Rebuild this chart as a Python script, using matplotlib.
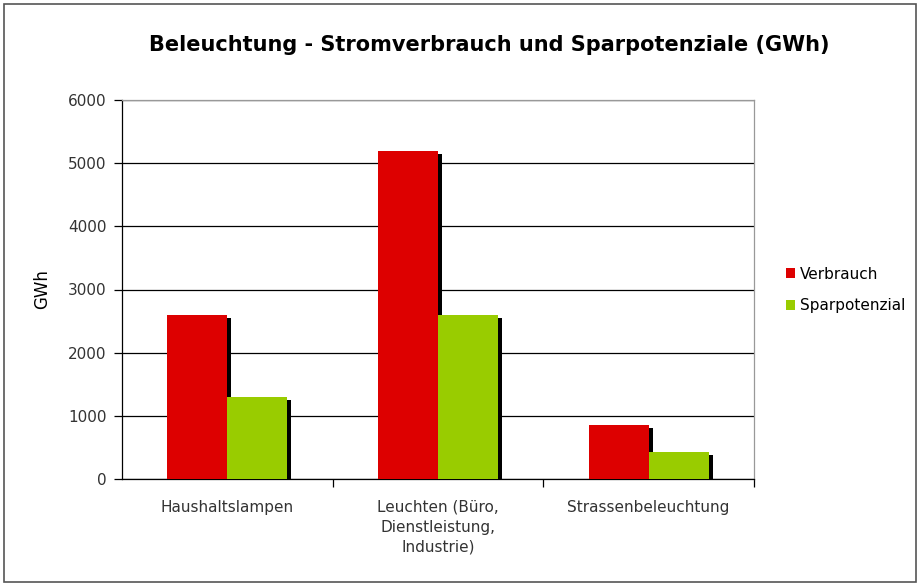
import matplotlib
matplotlib.use("Agg")
import matplotlib.pyplot as plt
import matplotlib.patheffects as pe
from matplotlib.patches import Rectangle, Patch
import numpy as np

categories = ["Haushaltslampen", "Leuchten (Büro,\nDienstleistung,\nIndustrie)", "Strassenbeleuchtung"]
verbrauch = [2600, 5200, 850]
sparpotenzial = [1300, 2600, 430]
series_names = ["Verbrauch", "Sparpotenzial"]
colors = ['#DD0000', '#99CC00']
yticks = [0, 1000, 2000, 3000, 4000, 5000, 6000]

plt.rcParams['font.family'] = ['DejaVu Sans']

fig = plt.figure(figsize=(9.2, 5.85), dpi=100)
ax = fig.add_axes([122/920, 1-479/585, (754-122)/920, (479-100)/585])

x = np.arange(len(categories))
w = 0.285
shadow = [pe.SimplePatchShadow(offset=(2.9, -2.2), shadow_rgbFace='black', alpha=1.0), pe.Normal()]
b1 = ax.bar(x - w/2, verbrauch, w, color=colors[0], zorder=3)
b2 = ax.bar(x + w/2, sparpotenzial, w, color=colors[1], zorder=4)
for b in list(b1) + list(b2):
    b.set_path_effects(shadow)

ax.set_xlim(-0.5, 2.5)
ax.set_ylim(0, 6000)
ax.set_yticks(yticks)
ax.set_yticklabels([str(v) for v in yticks], fontsize=11, color='#333333')
ax.yaxis.grid(True, color='black', linewidth=0.9, zorder=0)
ax.set_axisbelow(True)
ax.tick_params(axis='y', direction='out', length=6, width=0.9, pad=5)
ax.set_xticks(x)
ax.set_xticklabels(categories, fontsize=11, color='#333333', linespacing=1.4)
ax.set_xticks([0.5, 1.5, 2.5], minor=True)
ax.tick_params(axis='x', which='major', length=0, pad=15)
ax.tick_params(axis='x', which='minor', length=6, width=0.9, direction='out')
for s in ['top', 'right']:
    ax.spines[s].set_color('#999999')
    ax.spines[s].set_linewidth(0.9)
for s in ['left', 'bottom']:
    ax.spines[s].set_color('black')
    ax.spines[s].set_linewidth(0.9)

ax.set_ylabel("GWh", fontsize=12, labelpad=12)
fig.text(0.532, 1-45/585, "Beleuchtung - Stromverbrauch und Sparpotenziale (GWh)",
         ha='center', va='center', fontsize=15, fontweight='bold')

handles = [Patch(facecolor=c, edgecolor='none') for c in colors]
ax.legend(handles, series_names, loc='center left', bbox_to_anchor=(786/920, 1-290/585),
          bbox_transform=fig.transFigure,
          frameon=False, fontsize=11, handlelength=0.6, handleheight=0.6, handletextpad=0.3,
          labelspacing=1.1, borderaxespad=0, borderpad=0)

fig.add_artist(Rectangle((4/920, 3/585), 912/920, 578/585, transform=fig.transFigure,
                         fill=False, edgecolor='#555555', linewidth=1.2))

fig.savefig("out.png", dpi=100)
